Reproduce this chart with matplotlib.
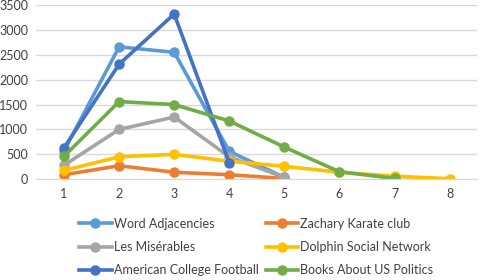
import matplotlib
matplotlib.use('Agg')
import matplotlib.pyplot as plt

plt.rcParams['font.family'] = ['Lato', 'DejaVu Sans']

word_x = [1, 2, 3, 4, 5]
word_y = [570, 2660, 2550, 560, 35]
karate_x = [1, 2, 3, 4, 5]
karate_y = [90, 270, 140, 90, 15]
les_x = [1, 2, 3, 4, 5]
les_y = [280, 1000, 1250, 450, 35]
dolphin_x = [1, 2, 3, 4, 5, 6, 7, 8]
dolphin_y = [175, 450, 500, 360, 260, 140, 60, 10]
football_x = [1, 2, 3, 4]
football_y = [630, 2310, 3320, 330]
books_x = [1, 2, 3, 4, 5, 6, 7]
books_y = [460, 1560, 1500, 1170, 645, 150, 15]

series = [
    ("Word Adjacencies", word_x, word_y, "#5B9BD5"),
    ("Zachary Karate club", karate_x, karate_y, "#ED7D31"),
    ("Les Misérables", les_x, les_y, "#A5A5A5"),
    ("Dolphin Social Network", dolphin_x, dolphin_y, "#FFC000"),
    ("American College Football", football_x, football_y, "#4472C4"),
    ("Books About US Politics", books_x, books_y, "#70AD47"),
]

fig = plt.figure(figsize=(4.8, 2.8), dpi=100)
ax = fig.add_axes([0.076, 0.36, 0.918, 0.622])

for name, xs, ys, c in series:
    ax.plot(xs, ys, color=c, linewidth=2.6, marker='o', markersize=6.5,
            markeredgecolor=c, markerfacecolor=c, label=name)

ax.set_xlim(0.5, 8.5)
ax.set_ylim(0, 3500)
ax.set_xticks(range(1, 9))
ax.set_yticks(range(0, 3501, 500))
ax.yaxis.grid(True, color='#D9D9D9', linewidth=1)
ax.set_axisbelow(True)
for s in ['top', 'right', 'left']:
    ax.spines[s].set_visible(False)
ax.spines['bottom'].set_color('#D9D9D9')
ax.tick_params(length=0, labelsize=9, colors='#404040', pad=6)

# legend is read row by row in the reference, matplotlib fills by column
handles, labels = ax.get_legend_handles_labels()
order = [0, 2, 4, 1, 3, 5]
fig.legend([handles[i] for i in order], [labels[i] for i in order],
           loc='upper left', bbox_to_anchor=(0.165, 0.222),
           ncol=2, frameon=False, fontsize=9, handlelength=2.6,
           handletextpad=0.15, columnspacing=0.6, labelspacing=0.9,
           borderaxespad=0, borderpad=0, labelcolor='#404040')

fig.savefig('out.png', dpi=100)
